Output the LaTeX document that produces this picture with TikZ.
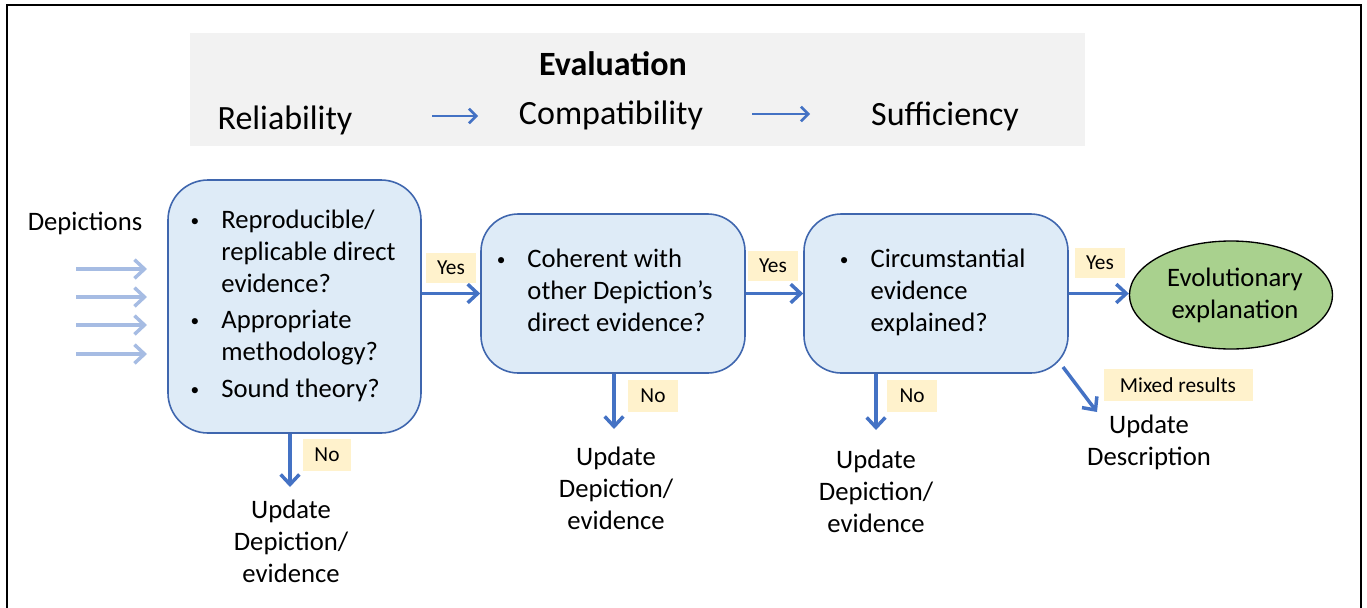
\documentclass[tikz,border=0pt]{standalone}
\usepackage{fontspec}
\setmainfont{Carlito}
\usetikzlibrary{arrows.meta,shapes.geometric}
\definecolor{arrblue}{HTML}{4472C4}
\definecolor{boxfill}{HTML}{DEEBF7}
\definecolor{boxline}{HTML}{3F66AE}
\definecolor{lightarr}{HTML}{A6BCE3}
\definecolor{labfill}{HTML}{FFF2CC}
\definecolor{topgray}{HTML}{F2F2F2}
\definecolor{evgreen}{HTML}{A9D18E}
\newcommand\bodyfs{\fontsize{20pt}{24pt}\selectfont}
\newcommand\topfs{\fontsize{25.5pt}{30pt}\selectfont}
\newcommand\labfs{\fontsize{16pt}{19pt}\selectfont}
\newcommand\smbul{\hspace*{-2pt}\raisebox{1.6pt}{\fontsize{13pt}{13pt}\selectfont\textbullet}}
\begin{document}
\begin{tikzpicture}[x=0.75pt,y=-0.75pt,
  qbox/.style={draw=boxline,line width=1.2pt,fill=boxfill,rounded corners=28pt,inner sep=0pt,font=\bodyfs},
  lab/.style={fill=labfill,inner sep=0pt,font=\labfs},
  arr/.style={draw=arrblue,line width=2.6pt,-{Straight Barb[length=7.5pt,width=14pt]}},
  inarr/.style={draw=lightarr,line width=2.6pt,-{Straight Barb[length=7.5pt,width=14pt]}},
  toparr/.style={draw=arrblue,line width=1.9pt,-{Straight Barb[length=5.5pt,width=11pt]}},
  upd/.style={align=center,font=\bodyfs,inner sep=0pt},
  toptxt/.style={anchor=base,font=\topfs}]
\useasboundingbox (0,0) rectangle (1367,607);
% frame
\draw[line width=1.5pt] (7,625) -- (7,5) -- (1361,5) -- (1361,625);
% evaluation band
\fill[topgray] (190,33) rectangle (1085,146);
\node[toptxt,font=\topfs\bfseries] (evt) at (613,75) {Evaluation};
\node[toptxt] (rel) at (285,129) {Reliability};
\node[toptxt] (com) at (611,124) {Compatibility};
\node[toptxt] (suf) at (945,125) {Sufficiency};
\coordinate (ta1s) at (432,116);
\coordinate (ta1e) at (478,116);
\coordinate (ta2s) at (752,114);
\coordinate (ta2e) at (810,114);
\draw[toparr] (ta1s) -- (ta1e);
\draw[toparr] (ta2s) -- (ta2e);
% input
\node[font=\bodyfs] (dep) at (85,223) {Depictions};
\foreach \i/\yy in {1/269,2/297,3/325,4/354}{
  \coordinate (ia\i s) at (76,\yy);
  \coordinate (ia\i e) at (147,\yy);
  \draw[inarr] (ia\i s) -- (ia\i e);
}
% boxes
\node[qbox,minimum width=189.75pt,minimum height=189.75pt,rounded corners=30pt] (b1) at (294.5,306.5)
 {\begin{tabular}{@{}p{21pt}@{}l@{}}\smbul & Reproducible/\\ & replicable direct\\ & evidence?\\[3.5pt]
  \smbul & Appropriate\\ & methodology?\\[3.5pt] \smbul & Sound theory?\end{tabular}};
\node[qbox,minimum width=198pt,minimum height=119.25pt] (b2) at (613,293.5)
 {\begin{tabular}{@{}p{21pt}@{}l@{\hspace{10.5pt}}}\smbul & Coherent with\\ & other Depiction’s\\ & direct evidence?\end{tabular}};
\node[qbox,minimum width=198pt,minimum height=119.25pt] (b3) at (936,293.5)
 {\begin{tabular}{@{}p{21pt}@{}l@{\hspace{3pt}}}\smbul & Circumstantial\\ & evidence\\ & explained?\end{tabular}};
\node[ellipse,draw=black,line width=1pt,fill=evgreen,minimum width=151.5pt,minimum height=81pt,inner sep=0pt,align=center,font=\bodyfs] (ev) at (1231,295) {\hspace*{6pt}Evolutionary\\\hspace*{6pt}explanation};
% yes arrows
\draw[arr] (b1.east |- b2.west) -- (b2.west);
\draw[arr] (b2.east) -- (b3.west);
\draw[arr] (b3.east) -- (b3.east -| ev.west);
\node[lab,minimum width=37.5pt,minimum height=23pt] (y1) at (451,268) {Yes};
\node[lab,minimum width=37.5pt,minimum height=23pt] (y2) at (773,266) {Yes};
\node[lab,minimum width=37.5pt,minimum height=23pt] (y3) at (1100,263) {Yes};
% no arrows
\node[upd] (u1) at (291,541) {Update\\Depiction/\\evidence};
\node[upd] (u2) at (616,488) {Update\\Depiction/\\evidence};
\node[upd] (u3) at (876,491) {Update\\Depiction/\\evidence};
\node[upd] (u4) at (1149,442) {Update\\Description};
\coordinate (n1e) at (290,487);
\coordinate (n2e) at (614,429);
\coordinate (n3e) at (876,430);
\draw[arr] (n1e |- b1.south) -- (n1e);
\draw[arr] (n2e |- b2.south) -- (n2e);
\draw[arr] (n3e |- b3.south) -- (n3e);
\node[lab,minimum width=36pt,minimum height=23.5pt] (no1) at (327,455) {No};
\node[lab,minimum width=37.5pt,minimum height=24pt] (no2) at (653,396) {No};
\node[lab,minimum width=37.5pt,minimum height=24pt] (no3) at (912,396) {No};
% mixed
\coordinate (ms) at (1063,367);
\coordinate (me) at (1097,412);
\draw[arr] (ms) -- (me);
\node[lab,minimum width=111.75pt,minimum height=24pt] (mx) at (1178,385) {Mixed results};
\end{tikzpicture}
\end{document}
